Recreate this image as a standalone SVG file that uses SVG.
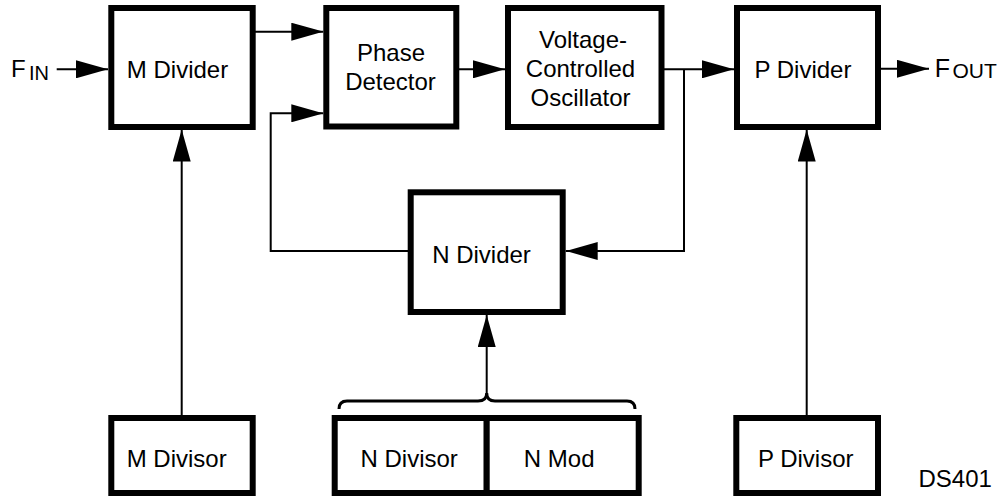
<svg xmlns="http://www.w3.org/2000/svg" width="1001" height="496" viewBox="0 0 1001 496">
<style>
.box{fill:#fff;stroke:#000;stroke-width:6}
.wire{fill:none;stroke:#000;stroke-width:2}
.brace{fill:none;stroke:#000;stroke-width:3}
.lbl{font-family:"Liberation Sans",Arial,sans-serif;font-size:24px;fill:#000;text-anchor:middle}
.plain{font-family:"Liberation Sans",Arial,sans-serif;font-size:24px;fill:#000}
.sub{font-size:20px}
</style>
<defs>
<marker id="arr" viewBox="0 0 32 18" refX="32" refY="9" markerWidth="32" markerHeight="18" markerUnits="userSpaceOnUse" orient="auto">
<path d="M0,0 L32,9 L0,18 z" fill="#000"/>
</marker>
</defs>
<rect width="1001" height="496" fill="#fff"/>
<g id="connectors">
<path class="wire" d="M56.7,69.3 H108" marker-end="url(#arr)"/>
<path class="wire" d="M255,31.7 H323.3" marker-end="url(#arr)"/>
<path class="wire" d="M459,69.3 H505" marker-end="url(#arr)"/>
<path class="wire" d="M664,69.3 H734" marker-end="url(#arr)"/>
<path class="wire" d="M684,69.3 V251 H565.7" marker-end="url(#arr)"/>
<path class="wire" d="M408,251 H270.7 V113.3 H323.3" marker-end="url(#arr)"/>
<path class="wire" d="M880,68.8 H929" marker-end="url(#arr)"/>
<path class="wire" d="M181.7,415 V129.5" marker-end="url(#arr)"/>
<path class="wire" d="M486.7,393.5 V315" marker-end="url(#arr)"/>
<path class="wire" d="M806.7,415 V129.5" marker-end="url(#arr)"/>
<path class="brace" d="M339,409 Q339,401 347,401 H478 Q486.7,401 486.7,393 Q486.7,401 495,401 H627 Q635,401 635,409"/>
</g>
<g id="fin"><text class="plain" x="11" y="76.5">F<tspan class="sub" x="29" y="80">IN</tspan></text></g>
<g id="mdivider"><rect class="box" x="111.3" y="8" width="141.4" height="119"/><text class="lbl" x="177.5" y="77.5">M Divider</text></g>
<g id="phase"><rect class="box" x="326.3" y="8" width="130" height="118.5"/><text class="lbl" x="391" y="61">Phase</text><text class="lbl" x="390.5" y="90">Detector</text></g>
<g id="vco"><rect class="box" x="508" y="8" width="153.5" height="119"/><text class="lbl" x="583" y="48.3">Voltage-</text><text class="lbl" x="580.5" y="77.3">Controlled</text><text class="lbl" x="580.5" y="105.5">Oscillator</text></g>
<g id="pdivider"><rect class="box" x="737" y="8" width="141" height="119"/><text class="lbl" x="803" y="77.5">P Divider</text></g>
<g id="fout"><text class="plain" x="934.7" y="76.7" style="font-size:25px">F<tspan x="952.5" y="78" style="font-size:21px">OUT</tspan></text></g>
<g id="ndivider"><rect class="box" x="410.7" y="192.3" width="152" height="119.7"/><text class="lbl" x="481.5" y="262.7">N Divider</text></g>
<g id="mdivisor"><rect class="box" x="111.3" y="418" width="141.4" height="75"/><text class="lbl" x="176.7" y="466.7">M Divisor</text></g>
<g id="ndivisor"><rect class="box" x="334.7" y="418" width="152" height="75"/><text class="lbl" x="409.2" y="466.7">N Divisor</text></g>
<g id="nmod"><rect class="box" x="486.7" y="418" width="152" height="75"/><text class="lbl" x="559.2" y="466.7">N Mod</text></g>
<g id="pdivisor"><rect class="box" x="736.3" y="418" width="141.7" height="75"/><text class="lbl" x="805.7" y="467.3">P Divisor</text></g>
<g id="label"><text class="plain" x="918.5" y="487">DS401</text></g>
</svg>
